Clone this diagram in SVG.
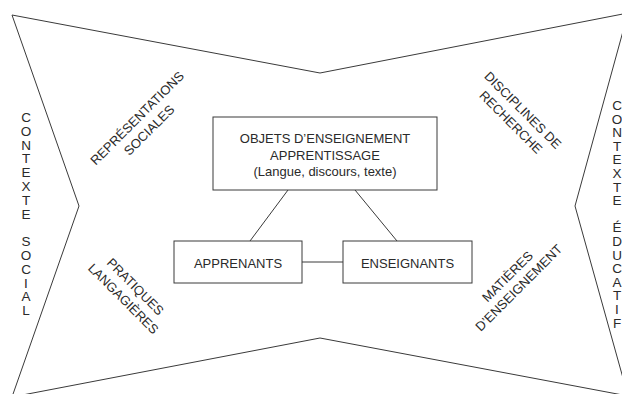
<svg xmlns="http://www.w3.org/2000/svg" width="622" height="394" viewBox="0 0 622 394">
<style>
.frame{fill:none;stroke:#3a3a3a;stroke-width:1}
.box{fill:#fff;stroke:#3a3a3a;stroke-width:1}
.conn{stroke:#3a3a3a;stroke-width:1;fill:none}
text{font-family:"Liberation Sans",Arial,sans-serif;font-size:13px;fill:#2a2a2a}
.c{text-anchor:middle}
.v{font-size:13.5px;text-anchor:middle}
</style>
<rect width="622" height="394" fill="#fff"/>
<g id="frame">
<polygon class="frame" points="12,15 320,73 628,13 575,206 628,396 320,338 12,397 79,206"/>
</g>
<g id="connectors">
<line class="conn" x1="288" y1="190" x2="250" y2="241"/>
<line class="conn" x1="355" y1="190" x2="397" y2="241"/>
<line class="conn" x1="302" y1="262" x2="343" y2="262"/>
</g>
<g id="node-objets">
<rect class="box" x="213" y="117" width="224" height="73"/>
<text class="c" x="325" y="143">OBJETS D’ENSEIGNEMENT</text>
<text class="c" x="325" y="160">APPRENTISSAGE</text>
<text class="c" x="325" y="176">(Langue, discours, texte)</text>
</g>
<g id="node-apprenants">
<rect class="box" x="174" y="241" width="128" height="42"/>
<text class="c" x="238" y="268">APPRENANTS</text>
</g>
<g id="node-enseignants">
<rect class="box" x="343" y="241" width="129" height="42"/>
<text class="c" x="407.5" y="268">ENSEIGNANTS</text>
</g>
<g id="label-representations" transform="translate(143,124) rotate(-45)">
<text class="c" x="0" y="-3.8">REPRÉSENTATIONS</text>
<text class="c" x="0" y="13.2">SOCIALES</text>
</g>
<g id="label-pratiques" transform="translate(129.5,292.5) rotate(45)">
<text class="c" x="0" y="-3.8">PRATIQUES</text>
<text class="c" x="0" y="13.2">LANGAGIÈRES</text>
</g>
<g id="label-disciplines" transform="translate(517,116) rotate(45)">
<text class="c" x="0" y="-3.8">DISCIPLINES DE</text>
<text class="c" x="0" y="13.2">RECHERCHE</text>
</g>
<g id="label-matieres" transform="translate(513,282) rotate(-45)">
<text class="c" x="0" y="-3.3">MATIÈRES</text>
<text class="c" x="0" y="12.7">D’ENSEIGNEMENT</text>
</g>
<g id="label-contexte-social">
<text class="v" x="26" y="122">C</text>
<text class="v" x="26" y="135.8">O</text>
<text class="v" x="26" y="149.6">N</text>
<text class="v" x="26" y="163.4">T</text>
<text class="v" x="26" y="177.2">E</text>
<text class="v" x="26" y="191">X</text>
<text class="v" x="26" y="204.8">T</text>
<text class="v" x="26" y="218.6">E</text>
<text class="v" x="26" y="246.2">S</text>
<text class="v" x="26" y="260">O</text>
<text class="v" x="26" y="273.8">C</text>
<text class="v" x="26" y="287.6">I</text>
<text class="v" x="26" y="301.4">A</text>
<text class="v" x="26" y="315.2">L</text>
</g>
<g id="label-contexte-educatif">
<text class="v" x="617" y="110">C</text>
<text class="v" x="617" y="123.6">O</text>
<text class="v" x="617" y="137.2">N</text>
<text class="v" x="617" y="150.8">T</text>
<text class="v" x="617" y="164.4">E</text>
<text class="v" x="617" y="178">X</text>
<text class="v" x="617" y="191.6">T</text>
<text class="v" x="617" y="205.2">E</text>
<text class="v" x="617" y="232.4">É</text>
<text class="v" x="617" y="246">D</text>
<text class="v" x="617" y="259.6">U</text>
<text class="v" x="617" y="273.2">C</text>
<text class="v" x="617" y="286.8">A</text>
<text class="v" x="617" y="300.4">T</text>
<text class="v" x="617" y="314">I</text>
<text class="v" x="617" y="327.6">F</text>
</g>
</svg>
